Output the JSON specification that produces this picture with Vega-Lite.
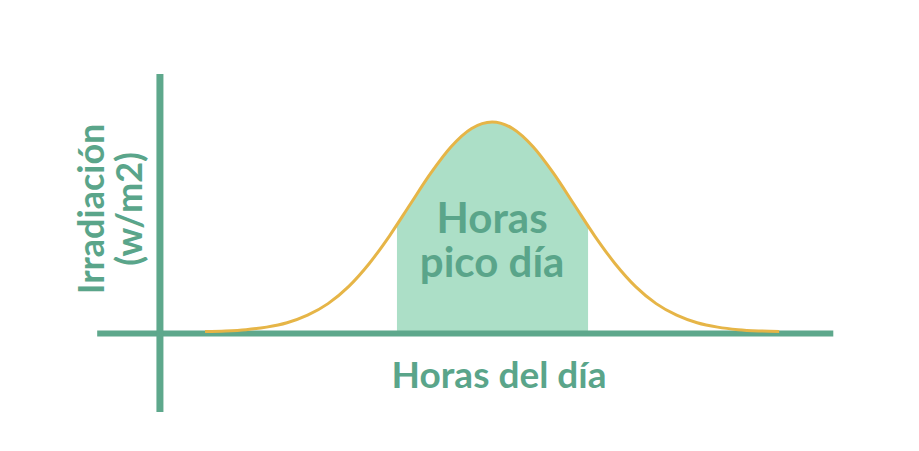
{
  "$schema": "https://vega.github.io/schema/vega-lite/v6.json",
  "width": 919,
  "height": 451,
  "autosize": {"type": "none"},
  "padding": 0,
  "background": "#ffffff",
  "config": {
    "view": {"stroke": null},
    "text": {"font": "Lato", "fontWeight": "bold", "color": "#5aa58a"}
  },
  "datasets": {
    "curve": [
      {"hora": 5, "irr": 2}, {"hora": 5.5, "irr": 5}, {"hora": 6, "irr": 11},
      {"hora": 6.5, "irr": 23}, {"hora": 7, "irr": 44}, {"hora": 7.5, "irr": 80},
      {"hora": 8, "irr": 135}, {"hora": 8.5, "irr": 216}, {"hora": 9, "irr": 325},
      {"hora": 9.5, "irr": 458}, {"hora": 10, "irr": 607}, {"hora": 10.5, "irr": 755},
      {"hora": 11, "irr": 882}, {"hora": 11.5, "irr": 969}, {"hora": 12, "irr": 1000},
      {"hora": 12.5, "irr": 969}, {"hora": 13, "irr": 882}, {"hora": 13.5, "irr": 755},
      {"hora": 14, "irr": 607}, {"hora": 14.5, "irr": 458}, {"hora": 15, "irr": 325},
      {"hora": 15.5, "irr": 216}, {"hora": 16, "irr": 135}, {"hora": 16.5, "irr": 80},
      {"hora": 17, "irr": 44}, {"hora": 17.5, "irr": 23}, {"hora": 18, "irr": 11},
      {"hora": 18.5, "irr": 5}, {"hora": 19, "irr": 2}
    ],
    "pico": [
      {"hora": 9.68, "irr": 510}, {"hora": 10, "irr": 607}, {"hora": 10.5, "irr": 755},
      {"hora": 11, "irr": 882}, {"hora": 11.5, "irr": 969}, {"hora": 12, "irr": 1000},
      {"hora": 12.5, "irr": 969}, {"hora": 13, "irr": 882}, {"hora": 13.5, "irr": 755},
      {"hora": 14, "irr": 607}, {"hora": 14.34, "irr": 505}
    ],
    "ejes": [
      {"eje": "x", "x": 2.37, "x2": 20.32, "y": -7, "y2": -7, "w": 6},
      {"eje": "y", "x": 3.9, "x2": 3.9, "y": -381, "y2": 1229, "w": 7}
    ],
    "etiquetas": [
      {"id": "pico", "hora": 12, "irr": 471, "texto": ["Horas", "pico día"]},
      {"id": "x", "hora": 12.17, "irr": -267, "texto": ["Horas del día"]},
      {"id": "y", "hora": 2.26, "irr": 586, "texto": ["Irradiación", "(w/m2)"]}
    ]
  },
  "layer": [
    {
      "data": {"name": "pico"},
      "mark": {"type": "area", "interpolate": "monotone", "color": "#acdfc7", "opacity": 1},
      "encoding": {
        "x": {"field": "hora", "type": "quantitative", "scale": {"domain": [0, 22.41], "nice": false, "zero": false}, "axis": null},
        "y": {"field": "irr", "type": "quantitative", "scale": {"domain": [-567, 1581], "nice": false, "zero": false}, "axis": null}
      }
    },
    {
      "data": {"name": "ejes"},
      "mark": {"type": "rule", "color": "#5ea88c", "strokeCap": "butt"},
      "encoding": {
        "x": {"field": "x", "type": "quantitative"},
        "x2": {"field": "x2"},
        "y": {"field": "y", "type": "quantitative"},
        "y2": {"field": "y2"},
        "strokeWidth": {"field": "w", "type": "quantitative", "scale": null}
      }
    },
    {
      "data": {"name": "curve"},
      "mark": {"type": "line", "interpolate": "monotone", "color": "#e6b547", "strokeWidth": 3},
      "encoding": {
        "x": {"field": "hora", "type": "quantitative"},
        "y": {"field": "irr", "type": "quantitative"}
      }
    },
    {
      "data": {"name": "etiquetas"},
      "transform": [{"filter": "datum.id == 'y'"}],
      "mark": {"type": "text", "align": "center", "baseline": "middle", "angle": 270, "fontSize": 36, "lineHeight": 38},
      "encoding": {
        "x": {"field": "hora", "type": "quantitative"},
        "y": {"field": "irr", "type": "quantitative"},
        "text": {"field": "texto"}
      }
    },
    {
      "data": {"name": "etiquetas"},
      "transform": [{"filter": "datum.id == 'pico'"}],
      "mark": {"type": "text", "align": "center", "baseline": "alphabetic", "fontSize": 42, "lineHeight": 44},
      "encoding": {
        "x": {"field": "hora", "type": "quantitative"},
        "y": {"field": "irr", "type": "quantitative"},
        "text": {"field": "texto"}
      }
    },
    {
      "data": {"name": "etiquetas"},
      "transform": [{"filter": "datum.id == 'x'"}],
      "mark": {"type": "text", "align": "center", "baseline": "alphabetic", "fontSize": 37},
      "encoding": {
        "x": {"field": "hora", "type": "quantitative"},
        "y": {"field": "irr", "type": "quantitative"},
        "text": {"field": "texto"}
      }
    }
  ]
}
